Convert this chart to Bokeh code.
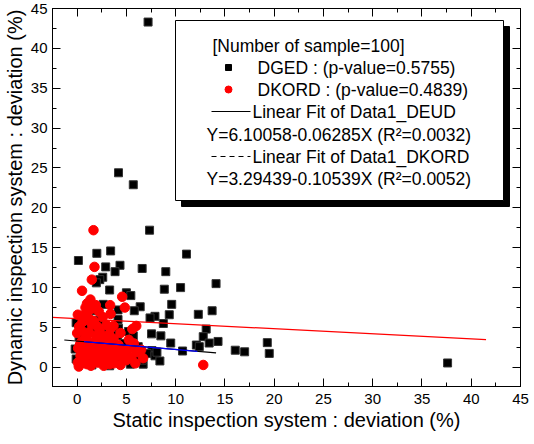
from bokeh.plotting import figure
from bokeh.models import (Range1d, LinearAxis, SingleIntervalTicker, Label, BoxAnnotation,
                          CustomJSTickFormatter)
from bokeh.embed import file_html
from bokeh.resources import INLINE

# ---------------- data ----------------
dged_x = [7.2, 4.2, 5.7, 7.35, 0.13, 2.0, 3.4, 11.1, 2.9, 4.35, 3.85, 6.6, 9.0, 2.6, 2.3,
          1.95, 14.1, 3.3, 8.85, 10.5, 5.0, 5.45, 2.65, 9.6, 6.4, 5.8, 4.15, 13.7, 1.9, 7.9,
          7.4, 9.35, 12.3, 4.15, -0.1, 8.75, 1.55, 4.2, 13.1, 5.2, 7.55, 4.1, 5.7, 8.5, 12.8,
          14.3, 13.4, 9.5, 12.1, 12.4, 16.05, 17.0, 10.7, 7.6, 7.1, 7.9, 8.4, 6.7, 5.4, 4.3,
          -0.2, 19.3, 19.5, 37.6, 8.1, 6.6, 4.0, -0.1, 4.5,
          0.3, 1.2, 2.0, 3.0, 0.6, 1.5, 2.8, 3.6, 0.9, 2.2, 3.1, 1.0, 4.5, 0.2, 2.5, 3.8,
          1.7, 5.0, 6.2, 6.0, 4.8, 3.3, 0.5, 1.1, 2.4, 3.5]
dged_y = [43.3, 24.4, 22.9, 17.2, 13.4, 14.3, 14.6, 14.2, 12.6, 12.8, 12.0, 12.4, 12.0, 11.3, 11.0,
          10.6, 10.5, 9.7, 9.8, 10.0, 9.35, 9.0, 7.9, 7.9, 7.6, 7.1, 7.2, 7.1, 7.1, 6.4,
          6.2, 6.6, 6.65, 6.0, 5.6, 5.5, 4.8, 4.9, 4.8, 4.5, 4.2, 4.0, 3.95, 3.95, 3.85,
          3.25, 3.05, 3.05, 2.8, 2.6, 2.15, 1.95, 2.05, 2.1, 1.75, 1.45, 0.8, 0.4, 0.4, 0.6,
          2.3, 3.1, 1.75, 0.55, 1.9, 0.9, 2.5, 1.05, 1.3,
          0.5, 1.0, 2.5, 3.5, 3.3, 0.3, 1.7, 2.6, 5.2, 5.9, 4.4, 2.0, 2.2, 3.9, 0.9, 1.0,
          3.0, 1.5, 2.6, 0.9, 3.0, 0.2, 4.2, 1.4, 4.6, 1.2]

dkord_x = [1.66, 1.76, 1.49, 0.5, 1.35, 4.57, 3.35, 4.84, 0.85, 1.4, 3.39, 0.07, 1.08, 0.54, 1.49,
           3.69, 6.0, 5.6, 2.27, 0.0, 3.22, 0.95, 1.93, 5.25, 0.44, 1.35, 2.54, 3.52, 5.76, 0.1,
           0.85, 1.96, 2.95, 3.9, 4.9, 6.1, 0.34, 1.29, 2.37, 3.39, 4.74, 6.7, 0.07, 1.0, 1.7,
           2.7, 3.7, 0.17, 12.8,
           0.3, 0.6, 0.8, 1.1, 1.2, 1.4, 1.6, 1.8, 2.0, 2.1, 2.2, 2.4, 2.6, 2.8, 2.9,
           3.1, 3.3, 3.5, 3.7, 4.0, 4.2, 4.4, 4.6, 5.0, 5.3, 5.5, 0.2, 0.4, 0.9, 1.3,
           1.7, 2.0, 2.6, 1.2, 0.5, 3.0, 1.9, 1.0, 0.7, 2.3, 3.4, 4.4, 6.5, 5.9, 2.2]
dkord_y = [17.2, 12.6, 11.0, 9.6, 8.5, 8.85, 7.8, 7.5, 7.5, 7.3, 6.7, 6.6, 6.2, 5.7, 5.4,
           5.2, 5.2, 4.8, 4.7, 4.3, 4.15, 4.0, 3.95, 3.45, 3.2, 2.9, 2.8, 3.0, 3.0, 2.4,
           2.2, 2.3, 2.1, 1.95, 2.1, 1.9, 1.45, 1.55, 1.4, 1.25, 1.1, 1.15, 0.6, 0.4, 0.8,
           0.2, 0.5, 0.1, 0.3,
           2.9, 0.9, 3.6, 1.6, 4.4, 0.2, 2.6, 1.2, 3.4, 0.6, 1.9, 4.1, 2.4, 0.7, 3.3,
           1.7, 0.4, 2.5, 3.6, 1.4, 2.8, 0.3, 1.8, 0.9, 2.4, 1.3, 5.1, 4.7, 6.8, 6.0,
           5.8, 5.2, 6.3, 3.2, 2.0, 5.3, 7.8, 8.0, 5.9, 3.0, 4.9, 4.3, 2.2, 0.5, 7.0]

# linear fits (end points, matching the printed equations)
deud_fit_x = [-2.5, 41.5]
deud_fit_y = [6.26, 3.49]
dkord_fit_x = [-1.3, 14.1]
dkord_fit_y = [3.43, 1.81]
dkord_blue_x = [0.7, 12.2]
dkord_blue_y = [3.22, 2.01]

legend_title = "[Number of sample=100]"
legend_dged = "DGED : (p-value=0.5755)"
legend_dkord = "DKORD : (p-value=0.4839)"
legend_fit1 = "Linear Fit of Data1_DEUD"
legend_eq1 = "Y=6.10058-0.06285X (R\u00b2=0.0032)"
legend_fit2 = "Linear Fit of Data1_DKORD"
legend_eq2 = "Y=3.29439-0.10539X (R\u00b2=0.0052)"

x_title = "Static inspection system : deviation (%)"
y_title = "Dynamic inspection system : deviation (%)"

# ---------------- layout ----------------
X0, X1 = -2.5, 45.0
Y0, Y1 = -2.4, 45.0
FW, FH = 468, 378
FRAME_L, FRAME_T = 57, 16   # frame position on the page


def dx(sx):
    return X0 + (sx - FRAME_L) * (X1 - X0) / FW


def dy(sy):
    return Y1 - (sy - FRAME_T) * (Y1 - Y0) / FH


FONT = "Liberation Sans"

p = figure(frame_width=FW, frame_height=FH, output_backend="svg", toolbar_location=None,
           x_range=Range1d(X0, X1), y_range=Range1d(Y0, Y1),
           min_border_left=49, min_border_right=9, min_border_top=8, min_border_bottom=50,
           x_axis_label=x_title, y_axis_label=y_title)
p.xgrid.visible = False
p.ygrid.visible = False
p.outline_line_color = "black"
p.outline_line_alpha = 1.0
p.background_fill_color = "white"
p.border_fill_color = "white"


def style_axis(ax, labels=True, standoff=7):
    ax.ticker = SingleIntervalTicker(interval=5, num_minor_ticks=2)
    ax.major_tick_in = 8
    ax.major_tick_out = 0
    ax.minor_tick_in = 4
    ax.minor_tick_out = 0
    ax.axis_line_color = "black"
    ax.major_tick_line_color = "black"
    ax.minor_tick_line_color = "black"
    if labels:
        ax.major_label_text_font = FONT
        ax.major_label_text_font_size = "15px"
        ax.major_label_text_color = "black"
        ax.major_label_standoff = standoff
        ax.axis_label_text_font = FONT
        ax.axis_label_text_font_size = "20px"
        ax.axis_label_text_font_style = "normal"
        ax.axis_label_text_color = "black"
        ax.axis_label_standoff = 2
    else:
        ax.formatter = CustomJSTickFormatter(code="return ''")
        ax.major_label_standoff = 0


style_axis(p.xaxis[0], standoff=7)
style_axis(p.yaxis[0], standoff=5)
top_ax = LinearAxis()
right_ax = LinearAxis()
style_axis(top_ax, labels=False)
style_axis(right_ax, labels=False)
p.add_layout(top_ax, "above")
p.add_layout(right_ax, "right")

# ---------------- data marks ----------------
p.scatter(dged_x, dged_y, marker="square", size=8, fill_color="black", line_color="#333333")
p.scatter(dkord_x, dkord_y, marker="circle", size=9.5, fill_color="#ff0000", line_color="#ff0000")
p.line(deud_fit_x, deud_fit_y, line_color="#ff0000", line_width=1.2)
p.line(dkord_fit_x, dkord_fit_y, line_color="black", line_width=1.2)
p.line(dkord_blue_x, dkord_blue_y, line_color="#0000ff", line_width=1.2)

# ---------------- legend box ----------------
p.add_layout(BoxAnnotation(left=dx(186), right=dx(514), top=dy(34), bottom=dy(214),
                           fill_color="black", fill_alpha=1.0, line_color="black", line_alpha=1.0))
p.add_layout(BoxAnnotation(left=dx(180), right=dx(508), top=dy(28), bottom=dy(208),
                           fill_color="white", fill_alpha=1.0, line_color="black",
                           line_alpha=1.0, line_width=1))

rows = [(217, 53, legend_title), (262, 75, legend_dged), (262, 97, legend_dkord),
        (257, 119, legend_fit1), (211, 142, legend_eq1), (257, 164, legend_fit2),
        (211, 186, legend_eq2)]
for sx, sy, txt in rows:
    p.add_layout(Label(x=dx(sx), y=dy(sy), text=txt, text_font=FONT, text_font_size="17.5px",
                       text_color="black", text_baseline="middle", text_align="left"))

p.scatter([dx(233)], [dy(75)], marker="square", size=6, fill_color="black",
          line_color="black", level="overlay")
p.scatter([dx(233)], [dy(97)], marker="circle", size=7, fill_color="#ff0000",
          line_color="#ff0000", level="overlay")
p.line([dx(216), dx(255)], [dy(119), dy(119)], line_color="black", line_width=1, level="overlay")
p.line([dx(216), dx(255)], [dy(164), dy(164)], line_color="black", line_width=1.2,
       line_dash="5 4", level="overlay")

open("out.html", "w").write(file_html(p, INLINE))
